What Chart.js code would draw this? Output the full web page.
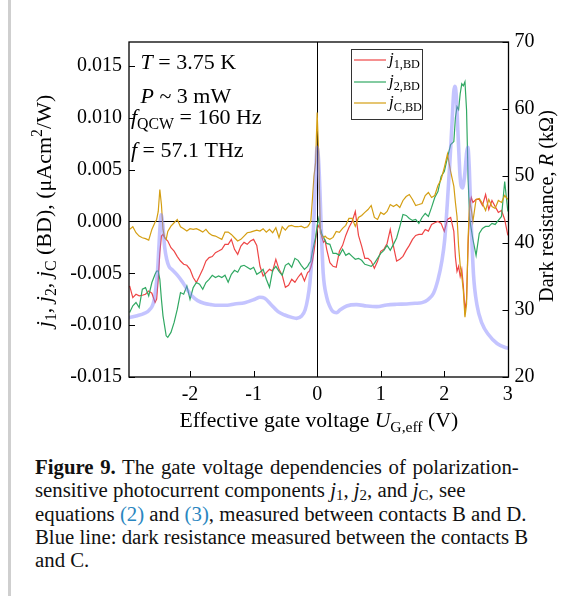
<!DOCTYPE html>
<html>
<head>
<meta charset="utf-8">
<script src="https://cdn.jsdelivr.net/npm/chart.js@4.4.0/dist/chart.umd.min.js"></script>
<style>
  html, body { margin: 0; padding: 0; background: #fff; }
  #wrap { position: relative; width: 564px; height: 596px; overflow: hidden; }
  #bar { position: absolute; left: 8px; top: 0; width: 3px; height: 596px; background: #cfcfcf; }
  #box { position: absolute; left: 0; top: 0; width: 564px; height: 440px; }
  #caption { position: absolute; left: 35px; top: 455px; font-family: "Liberation Serif", serif;
             font-size: 20.8px; line-height: 23.3px; color: #111; white-space: nowrap; }
  #caption .l1 { word-spacing: 1.4px; }
  #caption .ref { color: #2a86c0; }
  #caption sub { font-size: 0.72em; vertical-align: -0.2em; line-height: 0; }
</style>
</head>
<body>
<div id="wrap">
  <div id="bar"></div>
  <div id="box"><canvas id="chart" width="564" height="440"></canvas></div>
  <div id="caption"><span class="l1"><b>Figure 9.</b> The gate voltage dependencies of polarization-</span><br>sensitive photocurrent components <i>j</i><sub>1</sub>, <i>j</i><sub>2</sub>, and <i>j</i><sub>C</sub>, see<br>equations <span class="ref">(2)</span> and <span class="ref">(3)</span>, measured between contacts B and D.<br>Blue line: dark resistance measured between the contacts B<br>and C.</div>
</div>
<script>
const SERIF = '"Liberation Serif", "Times New Roman", serif';

// Gate voltage grid (V) shared by the three photocurrent curves
const uGate = [
  -2.95, -2.9, -2.85, -2.8, -2.75, -2.7, -2.65, -2.6, -2.55,
  -2.525, -2.5, -2.475, -2.45, -2.425, -2.4, -2.375, -2.35,
  -2.3, -2.25, -2.2, -2.15, -2.1, -2.05, -2.0, -1.95, -1.9, -1.85, -1.8, -1.75, -1.7, -1.65, -1.6, -1.55, -1.5, -1.45,
  -1.4, -1.35, -1.3, -1.25, -1.2, -1.15, -1.1, -1.05, -1.0, -0.95, -0.9, -0.85, -0.8, -0.75, -0.7, -0.65, -0.6, -0.55, -0.5, -0.45, -0.4, -0.35, -0.3, -0.25, -0.2, -0.15,
  -0.125, -0.1, -0.075, -0.05, -0.025, 0, 0.025, 0.05, 0.075, 0.1, 0.125, 0.15,
  0.2, 0.25, 0.3, 0.35, 0.4, 0.45, 0.5, 0.55, 0.6, 0.65, 0.7, 0.75, 0.8, 0.85, 0.9, 0.95, 1.0, 1.05, 1.1, 1.15, 1.2, 1.25, 1.3, 1.35, 1.4, 1.45, 1.5, 1.55, 1.6,
  1.65, 1.7, 1.75, 1.8, 1.85, 1.9, 1.95, 2.0, 2.05, 2.1, 2.15,
  2.175, 2.2, 2.225, 2.25, 2.275, 2.3, 2.325, 2.35, 2.375, 2.4, 2.425, 2.45,
  2.5, 2.55, 2.6, 2.65, 2.7, 2.75, 2.8, 2.85, 2.9, 2.95, 3.0
];

// j1,BD (uAcm2/W)
const j1 = [
  -0.00622, -0.00734, -0.00702, -0.00718, -0.00712, -0.00702, -0.00670, -0.00692, -0.00782,
  -0.00750, -0.00558, -0.00301, -0.00141, -0.00125, -0.00157, -0.00173, -0.00189,
  -0.00253, -0.00286, -0.00339, -0.00382, -0.00413, -0.00423, -0.00462, -0.00541, -0.00589, -0.00526, -0.00462, -0.00382, -0.00349, -0.00339, -0.00301, -0.00286, -0.00269, -0.00221,
  -0.00221, -0.00173, -0.00269, -0.00317, -0.00238, -0.00202, -0.00221, -0.00189, -0.00173, -0.00231, -0.00430, -0.00526, -0.00493, -0.00462, -0.00478, -0.00365, -0.00462, -0.00519, -0.00635, -0.00615, -0.00558, -0.00587, -0.00538, -0.00500, -0.00574, -0.00493,
  -0.00481, -0.00442, -0.00385, -0.00288, -0.00173, -0.00077, -0.00038, -0.00067, -0.00154, -0.00202, -0.00183, -0.00269,
  -0.00397, -0.00433, -0.00442, -0.00288, -0.00231, -0.00135, -0.00058, 0.00000, 0.00096, -0.00135, -0.00238, -0.00356, -0.00356, -0.00385, -0.00452, -0.00385, -0.00288, -0.00269, -0.00212, -0.00077, -0.00238, -0.00382, -0.00365, -0.00337, -0.00279, -0.00231, -0.00173, -0.00135, -0.00125,
  -0.00125, -0.00077, -0.00093, -0.00029, -0.00013, 0.00000, -0.00019, -0.00096, 0.00019, 0.00038, -0.00096,
  -0.00346, -0.00481, -0.00433, -0.00529, -0.00462, -0.00625, -0.00860, -0.00750, -0.00221, 0.00163, 0.00231, 0.00183,
  0.00212, 0.00212, 0.00154, 0.00260, 0.00115, 0.00202, 0.00144, 0.00087, 0.00106, 0.00019, -0.00135
];

// j2,BD
const j2 = [
  -0.00878, -0.00814, -0.00782, -0.00830, -0.00654, -0.00638, -0.00718, -0.00589, -0.00510,
  -0.00478, -0.00478, -0.00558, -0.00750, -0.00910, -0.01007, -0.01103, -0.01118,
  -0.01070, -0.00974, -0.00846, -0.00686, -0.00702, -0.00622, -0.00750, -0.00638, -0.00589, -0.00606, -0.00654, -0.00589, -0.00558, -0.00519, -0.00541, -0.00526, -0.00541, -0.00519,
  -0.00587, -0.00510, -0.00471, -0.00490, -0.00433, -0.00423, -0.00442, -0.00462, -0.00442, -0.00510, -0.00490, -0.00462, -0.00558, -0.00635, -0.00471, -0.00433, -0.00481, -0.00519, -0.00423, -0.00404, -0.00442, -0.00356, -0.00375, -0.00423, -0.00462, -0.00433,
  -0.00404, -0.00385, -0.00288, -0.00221, -0.00154, -0.00038, 0.00029, -0.00067, -0.00125, -0.00154, -0.00183, -0.00212,
  -0.00221, -0.00308, -0.00308, -0.00327, -0.00269, -0.00327, -0.00308, -0.00337, -0.00365, -0.00356, -0.00375, -0.00413, -0.00423, -0.00433, -0.00404, -0.00356, -0.00308, -0.00279, -0.00231, -0.00279, -0.00221, -0.00160, -0.00050, 0.00067, 0.00058, 0.00029, 0.00010, 0.00019, -0.00019,
  0.00038, 0.00077, 0.00048, 0.00135, 0.00231, 0.00288, 0.00433, 0.00481, 0.00615, 0.00740, 0.00770,
  0.01000, 0.01106, 0.01077, 0.01231, 0.01327, 0.01308, 0.01346, 0.01077, 0.00404, 0.00019, -0.00077, -0.00173,
  -0.00327, -0.00115, -0.00067, -0.00048, -0.00048, -0.00019, -0.00029, 0.00010, 0.00048, 0.00385, 0.00096
];

// jC,BD
const jC = [
  -0.00077, -0.00051, -0.00109, -0.00141, -0.00157, -0.00166, -0.00180, -0.00077, -0.00007,
  0.00019, 0.00096, 0.00308, 0.00163, -0.00077, -0.00154, -0.00173, -0.00096,
  -0.00045, -0.00013, 0.00019, -0.00051, -0.00070, -0.00093, -0.00070, -0.00077, -0.00070, -0.00084, -0.00103, -0.00077, -0.00115, -0.00135, -0.00141, -0.00157, -0.00173, -0.00103,
  -0.00103, -0.00125, -0.00157, -0.00189, -0.00173, -0.00141, -0.00109, -0.00103, -0.00093, -0.00084, -0.00093, -0.00070, -0.00103, -0.00077, -0.00109, -0.00061, -0.00157, -0.00051, -0.00084, -0.00045, -0.00038, -0.00051, -0.00051, -0.00045, -0.00061, -0.00051,
  -0.00029, 0.00003, 0.00212, 0.00436, 0.00564, 0.01050, 0.00630, -0.00109, -0.00141, -0.00157, -0.00141, -0.00157,
  -0.00173, -0.00154, -0.00096, -0.00106, -0.00067, -0.00038, 0.00029, 0.00029, -0.00048, 0.00038, 0.00058, 0.00087, 0.00115, 0.00154, 0.00038, 0.00019, 0.00087, 0.00067, 0.00096, 0.00163, 0.00144, 0.00163, 0.00135, 0.00202, 0.00240, 0.00260, 0.00212, 0.00154, 0.00163,
  0.00173, 0.00250, 0.00279, 0.00231, 0.00250, 0.00346, 0.00404, 0.00519, 0.00650, 0.00481, 0.00340,
  0.00183, 0.00048, -0.00240, -0.00423, -0.00529, -0.00673, -0.00923, -0.00800, -0.00150, 0.00192, 0.00115, 0.00000,
  0.00212, 0.00221, 0.00173, 0.00106, 0.00212, 0.00144, 0.00125, 0.00202, 0.00183, 0.00250, 0.00212
];

// Dark resistance B-C (kOhm), own voltage points
const uR = [
  -2.96, -2.83, -2.72, -2.64, -2.565, -2.51, -2.475, -2.455, -2.43, -2.40, -2.365, -2.33, -2.28, -2.20,
  -2.12, -2.04, -1.96, -1.88, -1.78, -1.67, -1.57, -1.41, -1.30, -1.14, -0.98, -0.90, -0.825, -0.72,
  -0.615, -0.51, -0.40, -0.325, -0.245, -0.19, -0.147, -0.115, -0.079, -0.047, -0.025, 0, 0.022, 0.043,
  0.069, 0.095, 0.148, 0.20, 0.25, 0.306, 0.358, 0.464, 0.62, 0.78, 0.937, 1.095, 1.25, 1.41, 1.54,
  1.65, 1.75, 1.83, 1.90, 1.96, 2.006, 2.046, 2.085, 2.12, 2.148, 2.164, 2.188, 2.22, 2.25, 2.287,
  2.32, 2.353, 2.37, 2.393, 2.424, 2.46, 2.514, 2.593, 2.697, 2.83, 2.96, 3.01
];
const rDark = [
  28.85, 29.15, 29.5, 30.0, 31.5, 36.0, 41.9, 44.2, 42.9, 39.45, 37.5, 36.5, 36.0, 35.2,
  34.2, 33.0, 32.0, 31.4, 31.0, 30.8, 30.7, 30.7, 30.9, 31.1, 31.6, 31.9, 31.75, 30.75,
  29.75, 29.25, 28.9, 28.75, 29.1, 30.0, 31.8, 34.0, 38.5, 44.4, 50.1, 54.3, 52.4, 47.9,
  40.9, 35.5, 32.0, 30.5, 29.75, 29.6, 30.0, 30.6, 30.8, 30.6, 30.5, 30.75, 30.85, 30.9, 31.0,
  31.1, 31.6, 32.5, 34.5, 37.2, 40.45, 45.7, 51.6, 57.6, 62.5, 63.4, 62.1, 55.4, 49.7, 48.2,
  50.1, 53.6, 54.3, 51.2, 42.7, 35.2, 30.75, 28.0, 26.3, 25.0, 24.4, 24.3
];

// Tick labels
const xTicks = [-2, -1, 0, 1, 2, 3];
const jTicks = [-0.015, -0.010, -0.005, 0, 0.005, 0.010, 0.015];
const rTicks = [20, 30, 40, 50, 60, 70];

// Texts
const legendLabels = ['*j*_{1,BD}', '*j*_{2,BD}', '*j*_{C,BD}'];
const notes = ['*T* = 3.75 K', '*P* ~ 3 mW', '*f*_{QCW} = 160 Hz', '*f* = 57.1 THz'];
const leftTitle = '*j*_{1}, *j*_{2}, *j*_{C} (BD), (\u03bcAcm^{2}/W)';
const rightTitle = 'Dark resistance, *R* (k\u03a9)';
const xTitle = 'Effective gate voltage *U*_{G,eff} (V)';

const colors = { j1: '#ee4545', j2: '#30a862', jC: '#d49e12', r: 'rgba(125,125,255,0.45)' };

const toPoints = (xs, ys) => xs.map((x, i) => ({ x: x, y: ys[i] }));

// Parse *italic*, _{sub}, ^{sup}
function parseRich(s) {
  const out = [];
  const re = /\*([^*]+)\*|_\{([^}]+)\}|\^\{([^}]+)\}|([^*_^]+)/g;
  let m;
  while ((m = re.exec(s))) {
    if (m[1]) out.push({ t: m[1], it: true });
    else if (m[2]) out.push({ t: m[2], sub: true });
    else if (m[3]) out.push({ t: m[3], sup: true });
    else out.push({ t: m[4] });
  }
  return out;
}

function segFont(seg, size) {
  const fs = (seg.sub || seg.sup) ? size * 0.72 : size;
  return (seg.it ? 'italic ' : '') + fs + 'px ' + SERIF;
}

function richWidth(ctx, segs, size) {
  let w = 0;
  segs.forEach(s => { ctx.font = segFont(s, size); w += ctx.measureText(s.t).width; });
  return w;
}

function drawRich(ctx, text, x, y, size, center) {
  const segs = parseRich(text);
  let cx = center ? x - richWidth(ctx, segs, size) / 2 : x;
  ctx.textBaseline = 'alphabetic';
  ctx.textAlign = 'left';
  segs.forEach(s => {
    ctx.font = segFont(s, size);
    const dy = s.sub ? size * 0.24 : s.sup ? -size * 0.4 : 0;
    ctx.fillText(s.t, cx, y + dy);
    cx += ctx.measureText(s.t).width;
  });
}

const overlay = {
  id: 'overlay',
  beforeDatasetsDraw(chart) {
    const { ctx, chartArea: a, scales } = chart;
    const y0 = Math.round(scales.yJ.getPixelForValue(0)) + 0.5;
    const x0 = Math.round(scales.x.getPixelForValue(0)) + 0.5;
    ctx.save();
    ctx.strokeStyle = '#000';
    ctx.lineWidth = 1;
    ctx.beginPath();
    ctx.moveTo(a.left, y0); ctx.lineTo(a.right, y0);
    ctx.moveTo(x0, a.top); ctx.lineTo(x0, a.bottom);
    ctx.stroke();
    ctx.restore();
  },
  afterDraw(chart) {
    const { ctx, chartArea: a, scales } = chart;
    ctx.save();
    ctx.strokeStyle = '#000';
    ctx.lineWidth = 1.3;
    ctx.strokeRect(a.left, a.top, a.right - a.left, a.bottom - a.top);

    // inward tick marks
    ctx.lineWidth = 1;
    ctx.beginPath();
    jTicks.forEach(v => {
      const y = Math.round(scales.yJ.getPixelForValue(v)) + 0.5;
      ctx.moveTo(a.left, y); ctx.lineTo(a.left + 6, y);
    });
    rTicks.forEach(v => {
      const y = Math.round(scales.yR.getPixelForValue(v)) + 0.5;
      ctx.moveTo(a.right - 6, y); ctx.lineTo(a.right, y);
    });
    xTicks.forEach(v => {
      const x = Math.round(scales.x.getPixelForValue(v)) + 0.5;
      ctx.moveTo(x, a.bottom); ctx.lineTo(x, a.bottom - 6);
    });
    ctx.stroke();

    ctx.fillStyle = '#000';
    // annotations
    drawRich(ctx, notes[0], 140.5, 69, 22);
    drawRich(ctx, notes[1], 140.5, 103, 22);
    drawRich(ctx, notes[2], 131, 124, 22);
    drawRich(ctx, notes[3], 131, 157, 22);

    // axis titles
    drawRich(ctx, xTitle, (a.left + a.right) / 2, 427, 21.7, true);
    ctx.save();
    ctx.translate(51, 211);
    ctx.rotate(-Math.PI / 2);
    drawRich(ctx, leftTitle, 0, 0, 22, true);
    ctx.restore();
    ctx.save();
    ctx.translate(553, 206);
    ctx.rotate(-Math.PI / 2);
    drawRich(ctx, rightTitle, 0, 0, 20.3, true);
    ctx.restore();

    // legend
    ctx.fillStyle = '#fff';
    ctx.fillRect(351.5, 49.5, 71, 70);
    ctx.strokeStyle = '#333';
    ctx.lineWidth = 1;
    ctx.strokeRect(351.5, 49.5, 71, 70);
    const lc = [colors.j1, colors.j2, colors.jC];
    const ly = [60, 82, 103];
    lc.forEach((c, i) => {
      ctx.strokeStyle = c;
      ctx.lineWidth = 1.2;
      ctx.beginPath();
      ctx.moveTo(354, ly[i]); ctx.lineTo(386, ly[i]);
      ctx.stroke();
      ctx.fillStyle = '#000';
      drawRich(ctx, legendLabels[i], 389, ly[i] + 4, 17);
    });
    ctx.restore();
  }
};

const tickFont = { family: SERIF, size: 20 };

new Chart(document.getElementById('chart'), {
  type: 'line',
  data: {
    datasets: [
      { label: 'R', data: toPoints(uR, rDark), yAxisID: 'yR', borderColor: colors.r, borderWidth: 3.6,
        pointRadius: 0, cubicInterpolationMode: 'monotone', order: 0 },
      { label: 'j1,BD', data: toPoints(uGate, j1), yAxisID: 'yJ', borderColor: colors.j1, borderWidth: 1.2,
        pointRadius: 0, tension: 0, order: 3 },
      { label: 'j2,BD', data: toPoints(uGate, j2), yAxisID: 'yJ', borderColor: colors.j2, borderWidth: 1.2,
        pointRadius: 0, tension: 0, order: 2 },
      { label: 'jC,BD', data: toPoints(uGate, jC), yAxisID: 'yJ', borderColor: colors.jC, borderWidth: 1.2,
        pointRadius: 0, tension: 0, order: 1 }
    ]
  },
  options: {
    responsive: false,
    animation: false,
    devicePixelRatio: 1,
    layout: { padding: { top: 42, left: 0, right: 0, bottom: 0 } },
    plugins: { legend: { display: false }, tooltip: { enabled: false } },
    scales: {
      x: {
        type: 'linear', min: -2.96, max: 3.01,
        grid: { display: false, drawTicks: false }, border: { display: false },
        ticks: { font: tickFont, color: '#000', padding: 6, autoSkip: false, maxRotation: 0 },
        afterBuildTicks: s => { s.ticks = xTicks.map(v => ({ value: v })); },
        afterFit: s => { s.height = 63; }
      },
      yJ: {
        type: 'linear', position: 'left', min: -0.015, max: 0.0173,
        grid: { display: false, drawTicks: false }, border: { display: false },
        ticks: { font: tickFont, color: '#000', padding: 7, autoSkip: false, callback: v => v.toFixed(3) },
        afterBuildTicks: s => { s.ticks = jTicks.map(v => ({ value: v })); },
        afterFit: s => { s.width = 129; }
      },
      yR: {
        type: 'linear', position: 'right', min: 20, max: 70,
        grid: { display: false, drawTicks: false }, border: { display: false },
        ticks: { font: tickFont, color: '#000', padding: 6, autoSkip: false },
        afterBuildTicks: s => { s.ticks = rTicks.map(v => ({ value: v })); },
        afterFit: s => { s.width = 55.5; }
      }
    }
  },
  plugins: [overlay]
});
</script>
</body>
</html>
